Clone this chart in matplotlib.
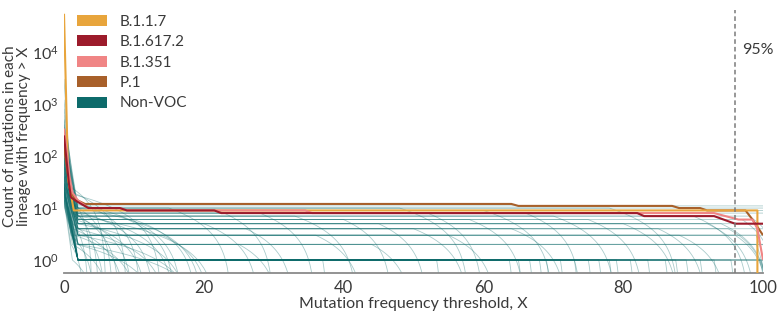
import numpy as np
import matplotlib
matplotlib.use('Agg')
import matplotlib.pyplot as plt
from matplotlib.path import Path
from matplotlib.patches import Patch
from matplotlib.ticker import FixedLocator, LogFormatterMathtext, NullLocator

plt.rcParams['font.family'] = ['Lato', 'DejaVu Sans']
plt.rcParams['mathtext.default'] = 'regular'

# ---------------- data ----------------
x_ticks = [0, 20, 40, 60, 80, 100]
y_ticks = [1, 10, 100, 1000, 10000]
threshold_x = 96
threshold_label = "95%"

voc_names = ["B.1.1.7", "B.1.617.2", "B.1.351", "P.1", "Non-VOC"]
voc_colors = ["#E8A53C", "#9C1B2B", "#F08585", "#A8602A", "#0D6B6B"]

b117_x = [0, 0.6, 1.0, 1.4, 99.2, 99.4]
b117_y = [55000, 35, 18, 9, 9, 0]
b16172_x = [0, 0.7, 1.0, 2.0, 3.5, 8.0, 9.0, 21.5, 22.5, 82.0, 83.0, 93.0, 96.0, 100]
b16172_y = [250, 30, 16, 13, 10, 10, 9, 9, 8, 8, 7, 7, 5, 5]
b1351_x = [0, 0.8, 1.2, 2.0, 3.5, 8.0, 9.0, 34.5, 35.5, 93.0, 96.5, 98.5, 99.2, 100]
b1351_y = [340, 40, 20, 14, 10, 10, 9, 9, 8, 8, 6, 6, 4, 1]
p1_x = [0, 0.8, 1.5, 3.0, 64.0, 65.0, 87.0, 88.0, 91.0, 92.0, 97.5, 98.5, 100]
p1_y = [150, 25, 15, 12, 12, 11, 11, 10, 10, 9, 9, 6, 3]

# Non-VOC lineages: value at X=0, plateau level, plateau start, drop start, drop end (count 0)
# early fan
fan_start = [3000, 1200, 800, 600, 400, 300, 250, 200, 180, 150, 120, 100, 90, 80,
             70, 60, 50, 45, 40, 35, 30, 28, 25, 22, 20, 18, 16, 14]
fan_level = [25, 20, 18, 15, 14, 12, 12, 10, 10, 9, 8, 8, 7, 7,
             6, 6, 5, 5, 4, 4, 3, 3, 3, 2, 2, 2, 2, 1]
fan_x1 = [1.0, 1.2, 1.5, 1.0, 1.3, 1.8, 1.1, 2.0, 1.0, 1.5, 1.8, 1.2, 2.0, 1.4,
          1.0, 1.6, 2.0, 1.2, 1.8, 1.3, 2.0, 1.0, 1.5, 1.2, 1.8, 2.0, 1.0, 1.2]
fan_end = [6, 9, 14, 4, 11, 17, 7, 20, 5, 13, 16, 8, 22, 10,
           3.5, 12, 18, 6, 15, 9, 19, 4.5, 11, 7, 14, 21, 3, 5]
# middle plateaus dropping off
mid_start = [150, 90, 70, 60, 50, 40, 35, 30, 25, 30, 40, 50, 35, 30, 28,
             20, 22, 26, 60, 45, 80, 100, 35, 45, 55, 65, 75, 38, 32, 42]
mid_level = [10, 9, 8, 7, 6, 5, 4, 3, 9, 8, 7, 6, 5, 4, 3,
             2, 2, 3, 5, 4, 6, 7, 3, 10, 10, 8, 6, 4, 5, 7]
mid_drop = [15, 22, 28, 33, 40, 45, 50, 55, 60, 66, 70, 75, 80, 85, 88,
            25, 44, 36, 20, 26, 10, 8, 14, 48, 78, 52, 58, 64, 92, 90]
mid_end = [24, 30, 36, 42, 47, 52, 58, 62, 70, 74, 79, 83, 88, 92, 95,
           31, 50, 43, 28, 33, 19, 16, 21, 58, 88, 60, 66, 72, 99, 98]
# single remaining mutation, dropping quickly
one_start = [12, 15, 18, 20, 22, 25, 14, 16, 30, 24, 19, 13, 17, 21, 26, 28, 11, 23, 27, 15, 18]
one_drop = [37, 53.3, 63.7, 65, 66.6, 68, 69, 71, 73, 75, 76.5, 78, 79, 81,
            83.5, 86, 87.5, 89, 91, 93, 95.4]
# lineages lasting until X=100
long_start = [40, 60, 80, 120, 50, 90, 150, 70, 110, 200, 130, 250, 160, 300, 180, 350, 220, 400, 500, 260]
long_level = [1, 1, 1, 1, 2, 2, 2, 3, 3, 3, 4, 4, 5, 5, 6, 7, 8, 9, 10, 11]
long_drop = [99.5, 99.7, 100, 100, 99, 100, 100, 96, 99, 100, 95, 100, 94, 100, 97, 98, 100, 100, 100, 100]
long_end = [100.5, 101, 101, 101, 100.5, 101, 102, 101, 100.5, 101, 101, 102, 101, 102, 102, 103, 103, 104, 104, 104]

# ---------------- figure ----------------
fig = plt.figure(figsize=(7.77, 3.11), dpi=100)
ax = fig.add_axes([64 / 777, 38 / 311, 699 / 777, 263 / 311])
ax.set_yscale('log', nonpositive='clip')
ax.set_xlim(0, 100)
ax.set_ylim(0.562, 6.5e4)


def draw(xs, ys, arc=True, **kw):
    """Straight segments in display space; the final drop to zero is drawn
    as a straight segment in data space (curving on the log axis)."""
    xs = np.asarray(xs, float)
    ys = np.asarray(ys, float)
    if arc and ys[-1] == 0 and len(xs) >= 2:
        seg = Path(np.column_stack([xs[-2:], ys[-2:]])).interpolated(40).vertices
        xs = np.concatenate([xs[:-2], seg[:, 0]])
        ys = np.concatenate([ys[:-2], seg[:, 1]])
    ax.plot(xs, ys, solid_joinstyle='round', **kw)


teal = voc_colors[4]
tkw = dict(color=teal, lw=0.6, alpha=0.35, zorder=1)

for v0, v, x1, xb in zip(fan_start, fan_level, fan_x1, fan_end):
    draw([0, x1, xb], [v0, v, 0], **tkw)
for v0, v, xa, xb in zip(mid_start, mid_level, mid_drop, mid_end):
    draw([0, 2.0, xa, xb], [v0, v, v, 0], **tkw)
for v0, xa in zip(one_start, one_drop):
    draw([0, 2.0, xa, xa + 0.6], [v0, 1, 1, 0], **tkw)
for v0, v, xa, xb in zip(long_start, long_level, long_drop, long_end):
    draw([0, 2.0, xa, xb], [v0, v, v, 0], **tkw)

vkw = dict(lw=1.5, solid_capstyle='butt')
draw(p1_x, p1_y, arc=False, color=voc_colors[3], zorder=3, **vkw)
draw(b117_x, b117_y, arc=False, color=voc_colors[0], zorder=4, **vkw)
draw(b1351_x, b1351_y, arc=False, color=voc_colors[2], zorder=5, **vkw)
draw(b16172_x, b16172_y, arc=False, color=voc_colors[1], zorder=6, **vkw)

ax.axvline(threshold_x, color='#7a7a7a', lw=1.1, ls=(0, (3, 2)), zorder=7)
ax.text(threshold_x + 1.0, 1.1e4, threshold_label, fontsize=11.5, color='#3a3a3a',
        ha='left', va='center')

# axes styling
for s in ['left', 'right', 'top']:
    ax.spines[s].set_visible(False)
ax.spines['bottom'].set_color('#8a8a8a')
ax.spines['bottom'].set_linewidth(1.3)
ax.xaxis.set_major_locator(FixedLocator(x_ticks))
ax.yaxis.set_major_locator(FixedLocator(y_ticks))
ax.yaxis.set_minor_locator(NullLocator())
ax.yaxis.set_major_formatter(LogFormatterMathtext())
ax.tick_params(axis='x', length=0, labelsize=12, labelcolor='#3a3a3a', pad=5)
ax.tick_params(axis='y', length=0, labelsize=11.5, labelcolor='#3a3a3a', pad=4)

ax.set_xlabel("Mutation frequency threshold, X", fontsize=11.5, color='#3a3a3a',
              labelpad=1)
ax.set_ylabel("Count of mutations in each\nlineage with frequency > X", fontsize=11,
              color='#3a3a3a', linespacing=1.0)
ax.yaxis.set_label_coords(-0.047, 0.52)

handles = [Patch(facecolor=c, edgecolor='none') for c in voc_colors]
leg = ax.legend(handles, voc_names, loc='upper left', bbox_to_anchor=(0.018, 0.982),
                frameon=False, fontsize=11, handlelength=2.0, handleheight=0.72,
                labelspacing=0.42, handletextpad=0.8, borderaxespad=0, borderpad=0)
for t in leg.get_texts():
    t.set_color('#3a3a3a')

fig.savefig('out.png', dpi=100)
